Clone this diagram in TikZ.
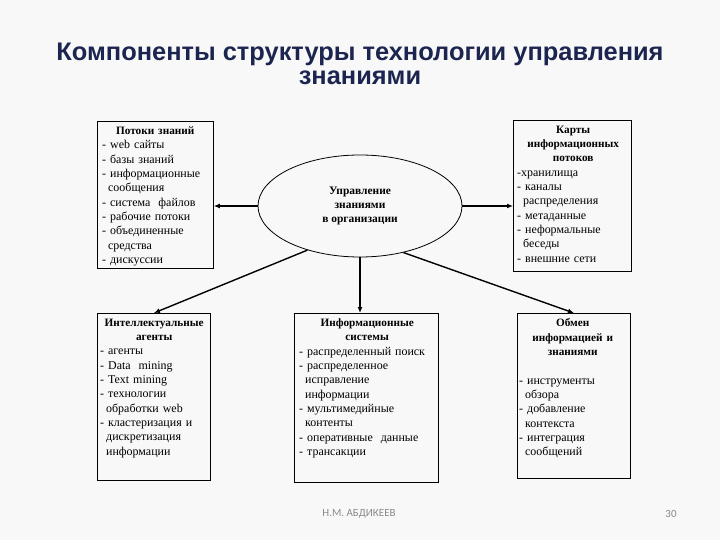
\documentclass[tikz,border=0pt]{standalone}
\usepackage{fontspec}
\setmainfont{Liberation Serif}
\newfontfamily\titlefont{Liberation Sans}
\newfontfamily\footfont{Carlito}
\usetikzlibrary{arrows.meta,shapes.geometric,calc}
\definecolor{titlecol}{HTML}{1B2550}
\definecolor{bgcol}{HTML}{F8F8F8}
\definecolor{footcol}{HTML}{8A8A8A}
\tikzset{
  box/.style={draw=black, line width=0.8bp, anchor=north west, inner sep=0pt},
  boxtext/.style={anchor=north west, inner sep=0pt, align=left,
    font=\fontsize{12}{14.4}\selectfont},
  conn/.style={line width=1.4bp, -{Latex[length=6bp,width=5bp]}},
}
\newcommand{\ttl}[1]{\makebox[\linewidth][c]{\bfseries\fontsize{11.3}{14.4}\selectfont #1}}
\newcommand{\ind}{\hspace*{0.5em}}
\begin{document}
\begin{tikzpicture}[x=1bp,y=-1bp]
\fill[bgcol] (0,0) rectangle (720,540);
\useasboundingbox (0,0) rectangle (720,540);

% title
\node[inner sep=0pt, align=center, text=titlecol,
  font=\titlefont\bfseries\fontsize{25.5}{24}\selectfont] (title) at (360,64)
  {Компоненты структуры технологии управления\\знаниями};

% boxes
\node[box, minimum width=116bp, minimum height=147bp] (b1) at (97,121) {};
\node[box, minimum width=118bp, minimum height=151bp] (b2) at (513,120) {};
\node[box, minimum width=113bp, minimum height=167bp] (b3) at (97,313) {};
\node[box, minimum width=144bp, minimum height=169bp] (b4) at (294,313) {};
\node[box, minimum width=113bp, minimum height=165bp] (b5) at (517,313) {};

% ellipse
\node[draw=black, line width=0.8bp, ellipse, minimum width=204bp, minimum height=102bp,
  inner sep=0pt, align=center, font=\fontsize{11.5}{14.4}\selectfont\bfseries] (ell) at (360,206)
  {Управление\\знаниями\\в организации};

% texts
\node[boxtext, text width=106bp] (t1) at ($(b1.north west)+(5,5.5)$) {%
\ttl{Потоки знаний}\\
- web сайты\\
- базы знаний\\
- информационные\\
\ind сообщения\\
- система\ \ файлов\\
- рабочие потоки\\
- объединенные\\
\ind средства\\
- дискуссии};

\node[boxtext, text width=112bp] (t2) at ($(b2.north west)+(4,5.5)$) {%
\ttl{Карты}\\
\ttl{информационных}\\
\ttl{потоков}\\
-хранилища\\
- каналы\\
\ind распределения\\
- метаданные\\
- неформальные\\
\ind беседы\\
- внешние сети};

\node[boxtext, text width=108bp] (t3) at ($(b3.north west)+(3,5.5)$) {%
\ttl{Интеллектуальные}\\
\ttl{агенты}\\
- агенты\\
- Data\ \ mining\\
- Text mining\\
- технологии\\
\ind обработки web\\
- кластеризация и\\
\ind дискретизация\\
\ind информации};

\node[boxtext, text width=136bp] (t4) at ($(b4.north west)+(5,5.5)$) {%
\ttl{Информационные}\\
\ttl{системы}\\
- распределенный поиск\\
- распределенное\\
\ind исправление\\
\ind информации\\
- мультимедийные\\
\ind контенты\\
- оперативные\ \ данные\\
- трансакции};

\node[boxtext, text width=107bp] (t5) at ($(b5.north west)+(2,5.5)$) {%
\ttl{Обмен}\\
\ttl{информацией и}\\
\ttl{знаниями}\\[14.4bp]
- инструменты\\
\ind обзора\\
- добавление\\
\ind контекста\\
- интеграция\\
\ind сообщений};

% connectors
\draw[conn] (ell.west) -- (ell.west -| b1.east);
\draw[conn] (ell.east) -- (ell.east -| b2.west);
\draw[conn] (ell.220) -- (b3.north);
\draw[conn] (ell.south) -- (ell.south |- b4.north);
\draw[conn] (ell.313) -- (b5.north);

% footer
\node[inner sep=0pt, text=footcol, font=\footfont\fontsize{11}{13}\selectfont] (foot) at (359,514) {Н.М. АБДИКЕЕВ};
\node[inner sep=0pt, text=footcol, font=\footfont\fontsize{11}{13}\selectfont] (page) at (671,514) {30};
\end{tikzpicture}
\end{document}
